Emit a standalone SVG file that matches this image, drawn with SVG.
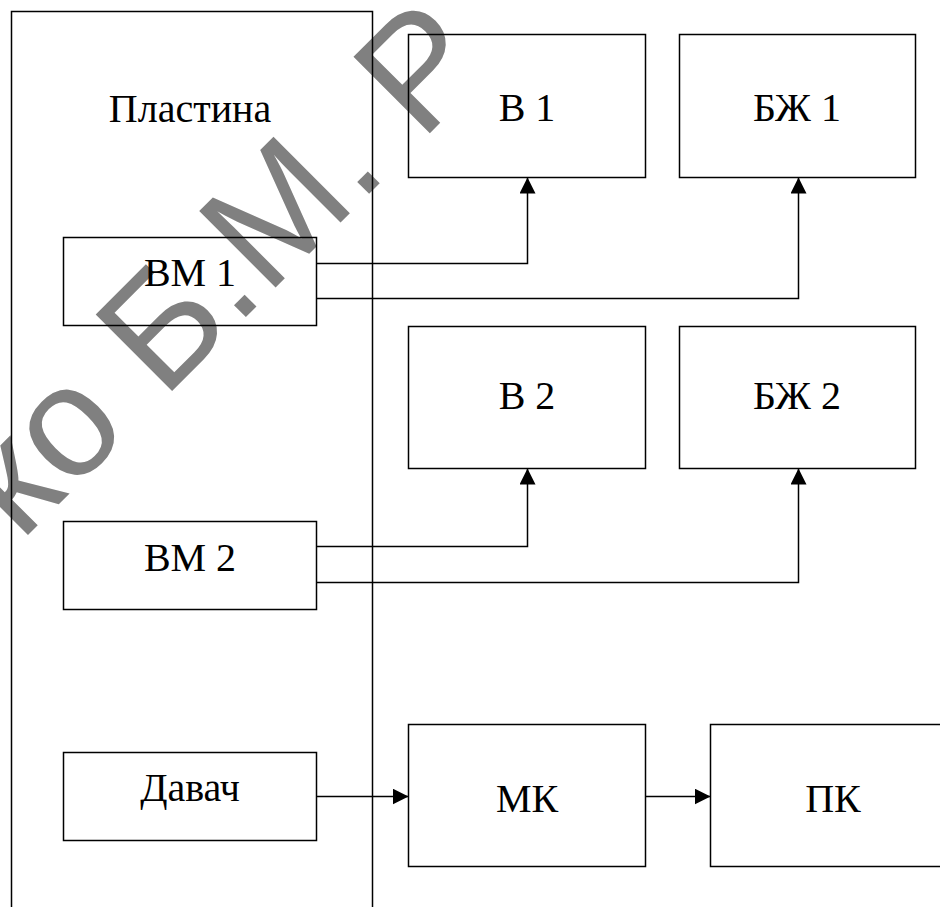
<svg xmlns="http://www.w3.org/2000/svg" width="940" height="907" viewBox="0 0 940 907">
<style>
.box{fill:none;stroke:#000;stroke-width:1.5}
.lbl{font-family:"Liberation Serif","Times New Roman",serif;font-size:40px;fill:#000;text-anchor:middle}
.wm{font-family:"Liberation Sans",Arial,sans-serif;font-size:157px;fill:#808080}
.con{fill:none;stroke:#000;stroke-width:1.5}
</style>
<defs>
<marker id="arr" viewBox="0 0 16 16" refX="16" refY="8" markerWidth="16" markerHeight="16" markerUnits="userSpaceOnUse" orient="auto">
<path d="M0 0 L16 8 L0 16 Z" fill="#000"/>
</marker>
</defs>
<rect width="940" height="907" fill="#fff"/>
<text class="wm" transform="translate(20.5,542.5) rotate(-45)">ко Б.М. Р</text>
<g id="plastina">
<rect class="box" x="11.5" y="11.5" width="361" height="910"/>
<text class="lbl" x="190" y="122">Пластина</text>
</g>
<g id="vm1">
<rect class="box" x="63.5" y="237.5" width="253" height="88"/>
<text class="lbl" x="190" y="286">ВМ 1</text>
</g>
<g id="vm2">
<rect class="box" x="63.5" y="521.5" width="253" height="88"/>
<text class="lbl" x="190" y="571">ВМ 2</text>
</g>
<g id="davach">
<rect class="box" x="63.5" y="752.5" width="253" height="88"/>
<text class="lbl" x="190" y="801">Давач</text>
</g>
<g id="b1">
<rect class="box" x="408.5" y="34.5" width="237" height="143"/>
<text class="lbl" x="527" y="121">В 1</text>
</g>
<g id="bzh1">
<rect class="box" x="679.5" y="34.5" width="236" height="143"/>
<text class="lbl" x="797" y="121">БЖ 1</text>
</g>
<g id="b2">
<rect class="box" x="408.5" y="326.5" width="237" height="142"/>
<text class="lbl" x="527" y="409">В 2</text>
</g>
<g id="bzh2">
<rect class="box" x="679.5" y="326.5" width="236" height="142"/>
<text class="lbl" x="797" y="409">БЖ 2</text>
</g>
<g id="mk">
<rect class="box" x="408.5" y="724.5" width="237" height="142"/>
<text class="lbl" x="527" y="812">МК</text>
</g>
<g id="pk">
<rect class="box" x="710.5" y="724.5" width="250" height="142"/>
<text class="lbl" x="833" y="812">ПК</text>
</g>
<g id="connectors">
<path class="con" d="M316.5 263.5 H527.5 V177.5" marker-end="url(#arr)"/>
<path class="con" d="M316.5 298.5 H798.5 V177.5" marker-end="url(#arr)"/>
<path class="con" d="M316.5 546.5 H527.5 V468.5" marker-end="url(#arr)"/>
<path class="con" d="M316.5 582.5 H798.5 V468.5" marker-end="url(#arr)"/>
<path class="con" d="M316.5 796.5 H408.5" marker-end="url(#arr)"/>
<path class="con" d="M645.5 796.5 H710.5" marker-end="url(#arr)"/>
</g>
</svg>
